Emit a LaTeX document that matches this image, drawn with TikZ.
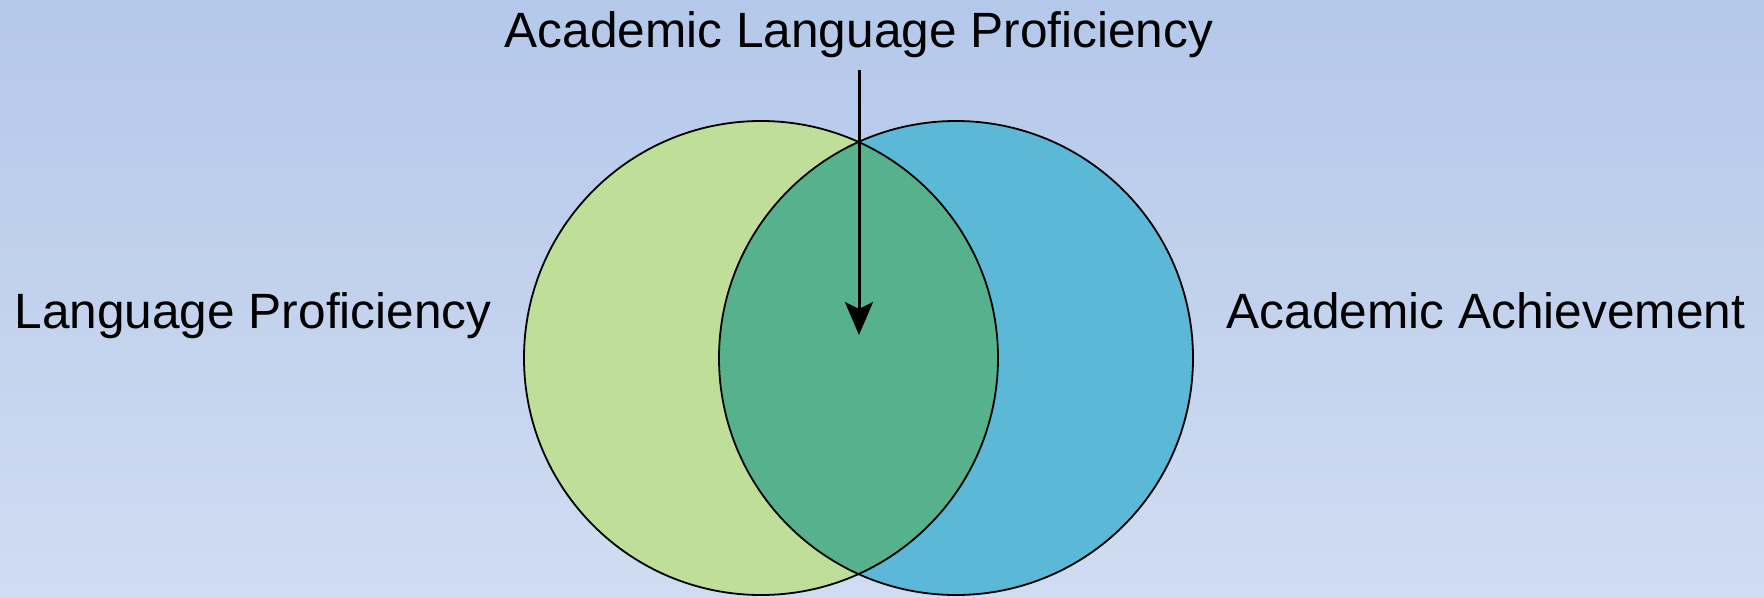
\documentclass[tikz,border=0pt]{standalone}
\usepackage{fontspec}
\setmainfont{Liberation Sans}
\usetikzlibrary{arrows.meta}
\definecolor{bgtop}{HTML}{B4C8EA}
\definecolor{bgbot}{HTML}{D0DCF1}
\definecolor{lpgreen}{HTML}{BFDE98}
\definecolor{aablue}{HTML}{5BB8D6}
\definecolor{overlap}{HTML}{56B28C}
\tikzset{
  label text/.style={inner sep=0pt, anchor=base, font=\fontsize{49.6}{60}\selectfont, text=black},
  venn edge/.style={draw=black, line width=1.8pt},
  pointer/.style={line width=3pt, -{Stealth[length=33pt,width=28pt,inset=7pt]}}
}
\begin{document}
\begin{tikzpicture}[x=1pt,y=-1pt]
  \shade[top color=bgtop, bottom color=bgbot] (0,0) rectangle (1764,597);
  \useasboundingbox (0,0) rectangle (1764,597);
  % circles
  \fill[lpgreen] (761,358) circle (237);
  \fill[aablue] (956,358) circle (237);
  \begin{scope}
    \clip (761,358) circle (237);
    \fill[overlap] (956,358) circle (237);
  \end{scope}
  \draw[venn edge] (761,358) circle (237);
  \draw[venn edge] (956,358) circle (237);
  % labels
  \node[label text] (title) at (859,47) {Academic Language Proficiency};
  \node[label text] (lp) at (253,328) {Language Proficiency};
  \node[label text] (aa) at (1486,328) {Academic Achievement};
  % arrow
  \coordinate (arrowstart) at (859,70);
  \coordinate (arrowend) at (859,335);
  \draw[pointer] (arrowstart) -- (arrowend);
\end{tikzpicture}
\end{document}
